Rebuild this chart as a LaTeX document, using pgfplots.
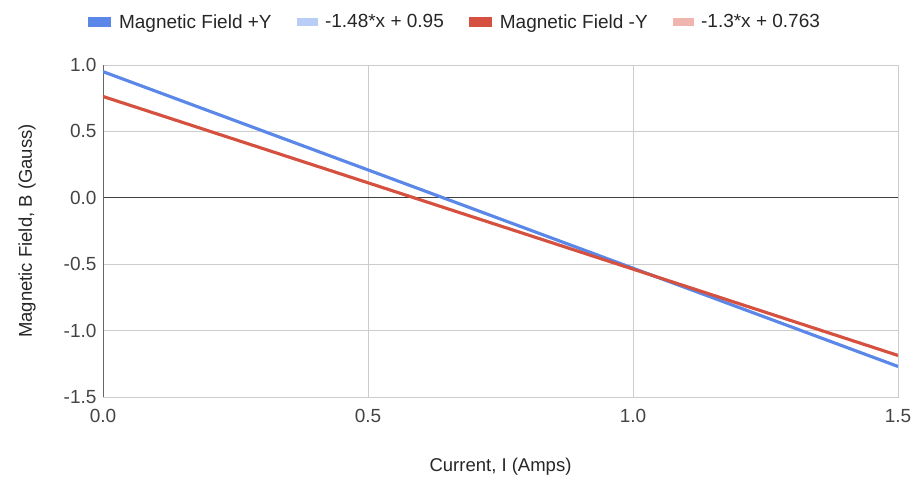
\documentclass[border=0pt]{standalone}
\usepackage{pgfplots}
\pgfplotsset{compat=1.18}
\usepackage{fontspec}
\setmainfont{Liberation Sans}
\definecolor{blueA}{HTML}{5A87E8}
\definecolor{blueL}{HTML}{B8CEF6}
\definecolor{redA}{HTML}{D6503F}
\definecolor{redL}{HTML}{EFB5AE}
\definecolor{gridc}{HTML}{CCCCCC}
\definecolor{txt}{HTML}{444444}
\begin{document}
\begin{tikzpicture}
\useasboundingbox (0,0) rectangle (915pt,483pt);
\begin{axis}[
  at={(103pt,86pt)}, anchor=south west,
  scale only axis, width=795pt, height=332pt,
  xmin=0, xmax=1.5, ymin=-1.5, ymax=1.0,
  xtick={0,0.5,1.0,1.5}, ytick={-1.5,-1.0,-0.5,0,0.5,1.0},
  xticklabels={0.0,0.5,1.0,1.5},
  yticklabels={-1.5,-1.0,-0.5,0.0,0.5,1.0},
  major tick length=0pt,
  grid=major, grid style={gridc, line width=1pt},
  axis line style={gridc, line width=1pt},
  tick label style={font=\fontsize{19}{22}\selectfont, text=txt},
  xticklabel style={yshift=-9pt},
  yticklabel style={xshift=-3pt},
  xlabel={Current, I (Amps)},
  ylabel={Magnetic Field, B (Gauss)},
  label style={font=\fontsize{18.5}{22}\selectfont, text=black!85},
  xlabel style={at={(axis description cs:0.5,0)}, anchor=center, yshift=-70pt},
  ylabel style={at={(axis description cs:0,0.5)}, anchor=center, yshift=76pt},
  legend columns=4,
  legend style={draw=none, fill=none, at={(455pt-103pt,461pt-86pt)}, anchor=center,
    font=\fontsize{19}{22}\selectfont, text=black!85,
    /tikz/every even column/.append style={column sep=23pt},
    /tikz/every odd column/.append style={column sep=6pt}},
  legend cell align=left,
  legend image code/.code={\fill[#1] (0pt,-3.5pt) rectangle (20pt,3.5pt);},
]
\addplot[color=blueL, line width=3pt, forget plot] coordinates {(0,0.95) (1.5,-1.27)};
\addplot[color=redL, line width=3pt, forget plot] coordinates {(0,0.763) (1.5,-1.187)};
\draw[black!75, line width=1pt] (axis cs:0,0) -- (axis cs:1.5,0);
\draw[black!60, line width=1.2pt] (axis cs:0,-1.5) -- (axis cs:0,1.0);
\addplot[color=blueA, line width=3pt] coordinates {(0,0.95) (0.5,0.21) (1.0,-0.53) (1.5,-1.27)};
\addlegendentry{Magnetic Field +Y}
\addlegendimage{color=blueL}
\addlegendentry{-1.48*x + 0.95}
\addplot[color=redA, line width=3pt] coordinates {(0,0.763) (0.5,0.113) (1.0,-0.537) (1.5,-1.187)};
\addlegendentry{Magnetic Field -Y}
\addlegendimage{color=redL}
\addlegendentry{-1.3*x + 0.763}
\end{axis}
\end{tikzpicture}
\end{document}
